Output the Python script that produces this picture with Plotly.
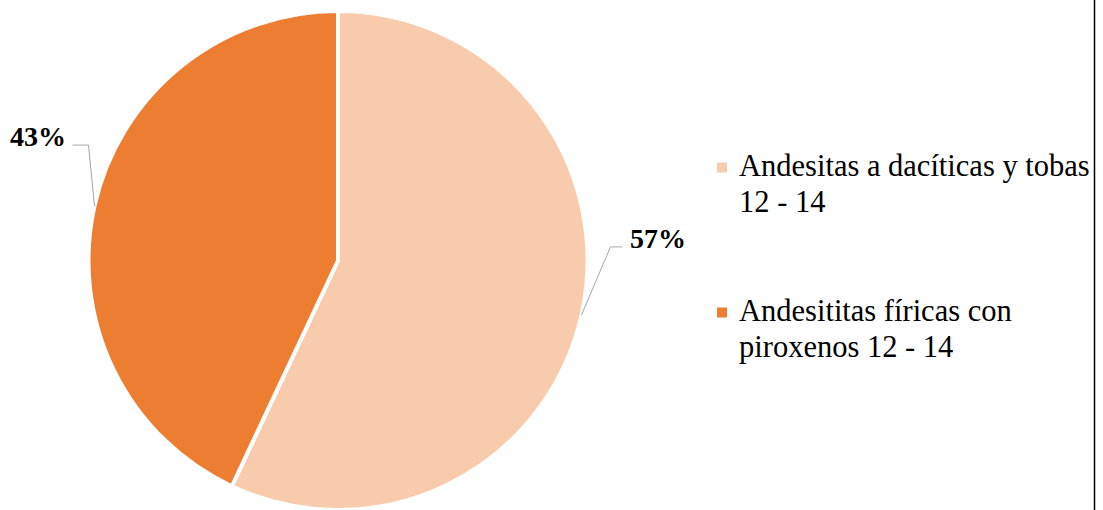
import math
import textwrap
import plotly.graph_objects as go

# --- data -------------------------------------------------------------
categories = [
    "Andesitas a dacíticas y tobas 12 - 14",
    "Andesititas fíricas con piroxenos 12 - 14",
]
percentages = [57, 43]
slice_colors = ["#F8CBAD", "#ED7D31"]

# --- canvas / layout geometry (pixels) ---------------------------------
W, H = 1103, 510
PIE_LEFT, PIE_RIGHT = 88, 588
PIE_TOP, PIE_BOTTOM = 11, 510
FONT = "Times New Roman, Liberation Serif, DejaVu Serif, serif"

dom_x = [PIE_LEFT / W, PIE_RIGHT / W]
dom_y = [1 - PIE_BOTTOM / H, 1 - PIE_TOP / H]
pie_r = min(PIE_RIGHT - PIE_LEFT, PIE_BOTTOM - PIE_TOP) / 2
pie_cx = (PIE_LEFT + PIE_RIGHT) / 2
pie_cy = (PIE_TOP + PIE_BOTTOM) / 2

fig = go.Figure()

fig.add_trace(go.Pie(
    labels=categories,
    values=percentages,
    sort=False,
    direction="clockwise",
    rotation=0,
    marker=dict(colors=slice_colors, line=dict(color="white", width=4)),
    textinfo="none",
    hoverinfo="label+percent",
    showlegend=False,
    domain=dict(x=dom_x, y=dom_y),
))

# --- data labels with leader lines --------------------------------------
# per-slice leader routing: elbow offset from the rim point, then a short
# horizontal run toward the label (sign gives direction)
leader_style = [
    dict(elbow=(29, -68), run=12, gap=6),
    dict(elbow=(-6, -61), run=-16, gap=5),
]

shapes = []
annotations = []
total = sum(percentages)
start = 0.0
for val, style in zip(percentages, leader_style):
    frac = val / total
    mid = (start + frac / 2) * 2 * math.pi  # clockwise from 12 o'clock
    start += frac
    ex = pie_cx + pie_r * math.sin(mid)
    ey = pie_cy - pie_r * math.cos(mid)
    bx, by = ex + style["elbow"][0], ey + style["elbow"][1]
    cx, cy = bx + style["run"], by
    shapes.append(dict(
        type="path",
        path=f"M{ex:.1f},{ey:.1f} L{bx:.1f},{by:.1f} L{cx:.1f},{cy:.1f}",
        xref="x", yref="y",
        line=dict(color="#A6A6A6", width=1),
    ))
    right_side = style["run"] > 0
    annotations.append(dict(
        x=cx + (style["gap"] if right_side else -style["gap"]),
        y=cy + 9,
        xref="x", yref="y",
        text=f"<b>{round(frac * 100)}%</b>",
        showarrow=False,
        xanchor="left" if right_side else "right",
        yanchor="bottom",
        font=dict(family=FONT, size=28, color="#000000"),
    ))

# --- legend (square swatch + wrapped label, one annotation per line) ----
legend_x = 717
legend_rows = [167.5, 312.5]
swatch = 10
line_step = 36
legend_font = 30.5
for name, color, yc in zip(categories, slice_colors, legend_rows):
    shapes.append(dict(
        type="rect", xref="x", yref="y",
        x0=legend_x, x1=legend_x + swatch,
        y0=yc - swatch / 2, y1=yc + swatch / 2,
        fillcolor=color, line=dict(width=0),
    ))
    for i, line in enumerate(textwrap.wrap(name, 29)):
        annotations.append(dict(
            x=legend_x + 20, y=yc - 21 + i * line_step,
            xref="x", yref="y",
            text=line,
            showarrow=False,
            xanchor="left", yanchor="top", align="left",
            font=dict(family=FONT, size=legend_font, color="#000000"),
        ))

# right-hand frame edge
shapes.append(dict(
    type="line", xref="x", yref="y",
    x0=1094.5, x1=1094.5, y0=0, y1=H,
    line=dict(color="#000000", width=1.5),
    layer="above",
))

fig.update_layout(
    width=W, height=H,
    margin=dict(l=0, r=0, t=0, b=0),
    paper_bgcolor="white", plot_bgcolor="rgba(0,0,0,0)",
    font=dict(family=FONT),
    xaxis=dict(range=[0, W], visible=False, fixedrange=True),
    yaxis=dict(range=[H, 0], visible=False, fixedrange=True),
    shapes=shapes,
    annotations=annotations,
    showlegend=False,
)

fig.write_html("out.html")
